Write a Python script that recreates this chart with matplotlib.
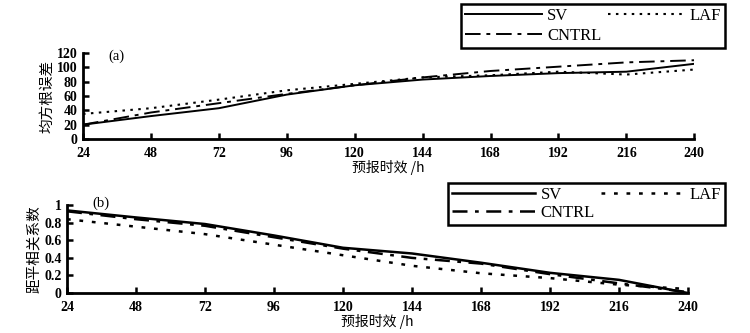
import matplotlib.pyplot as plt

# 预报时效 (h)
hours = [24, 48, 72, 96, 120, 144, 168, 192, 216, 240]

# (a) 均方根误差
rmse_sv = [20, 32, 43, 62, 75, 83, 88, 92, 94, 105]
rmse_laf = [35, 43, 55, 68, 77, 86, 89, 94, 90, 97]
rmse_cntrl = [20, 37, 50, 63, 75, 86, 95, 101, 107, 110]

# (b) 距平相关系数
acc_sv = [0.94, 0.86, 0.785, 0.655, 0.515, 0.45, 0.345, 0.23, 0.15, 0.0]
acc_laf = [0.84, 0.755, 0.67, 0.55, 0.43, 0.31, 0.225, 0.17, 0.095, 0.045]
acc_cntrl = [0.93, 0.84, 0.765, 0.635, 0.505, 0.40, 0.335, 0.215, 0.11, 0.01]

SERIF = ["Liberation Serif", "DejaVu Serif"]
CJK = ["Noto Sans CJK SC", "DejaVu Sans"]

plt.rcParams["font.family"] = SERIF


def style_axes(ax, ymax, yticks, yticklabels):
    ax.set_xlim(24, 240)
    ax.set_ylim(0, ymax)
    ax.set_xticks(hours)
    ax.set_yticks(yticks)
    ax.set_yticklabels(yticklabels)
    for side in ("top", "right"):
        ax.spines[side].set_visible(False)
    for side in ("left", "bottom"):
        ax.spines[side].set_linewidth(2)
    ax.tick_params(direction="in", length=4, width=1.8, labelsize=10)
    ax.tick_params(axis="x", pad=6)
    ax.tick_params(axis="y", pad=4)
    for lab in ax.get_xticklabels() + ax.get_yticklabels():
        lab.set_fontweight("bold")
    ax.set_xlabel("预报时效 /h", family=CJK, fontsize=10, labelpad=0)


def add_legend(ax, anchor, hl, spacing):
    leg = ax.figure.legend(*ax.get_legend_handles_labels(), loc="upper right",
                           bbox_to_anchor=anchor, ncol=2, handlelength=hl,
                           fancybox=False, edgecolor="black", framealpha=1,
                           fontsize=12, borderpad=0.25, labelspacing=spacing,
                           columnspacing=0.4, handletextpad=0.3, borderaxespad=0)
    leg.get_frame().set_linewidth(1.8)
    return leg


fig = plt.figure(figsize=(7.5, 3.33), dpi=100)

# ====== (a) ======
ax1 = fig.add_axes([0.1107, 0.5826, 0.815, 0.258])
ax1.plot(hours, rmse_sv, color="black", lw=1.4, ls="-", label="SV")
ax1.plot(hours, rmse_cntrl, color="black", lw=1.4, ls=(0, (8, 3, 2, 3)), label="CNTRL")
ax1.plot(hours, rmse_laf, color="black", lw=1.5, ls=(0, (1.2, 2.6)), label="LAF")
style_axes(ax1, 120, [0, 20, 40, 60, 80, 100, 120], ["0", "20", "40", "60", "80", "100", "120"])
ax1.set_ylabel("均方根误差", family=CJK, fontsize=10.5, labelpad=2)
ax1.text(33, 116, "(a)", fontsize=10.5, va="center", ha="left")
add_legend(ax1, (0.967, 0.988), 4.6, 0.25)

# ====== (b) ======
ax2 = fig.add_axes([0.0893, 0.12, 0.828, 0.264])
ax2.plot(hours, acc_sv, color="black", lw=1.8, ls="-", label="SV")
ax2.plot(hours, acc_cntrl, color="black", lw=1.8, ls=(0, (6, 3, 1.5, 3)), label="CNTRL")
ax2.plot(hours, acc_laf, color="black", lw=1.8, ls=(0, (1.5, 3.5)), label="LAF")
style_axes(ax2, 1, [0, 0.2, 0.4, 0.6, 0.8, 1], ["0", "0.2", "0.4", "0.6", "0.8", "1"])
ax2.set_ylabel("距平相关系数", family=CJK, fontsize=10.5, labelpad=2)
ax2.text(33, 1.02, "(b)", fontsize=10.5, va="center", ha="left")
add_legend(ax2, (0.967, 0.45), 5.0, 0.1)

fig.savefig("out.png", dpi=100)
